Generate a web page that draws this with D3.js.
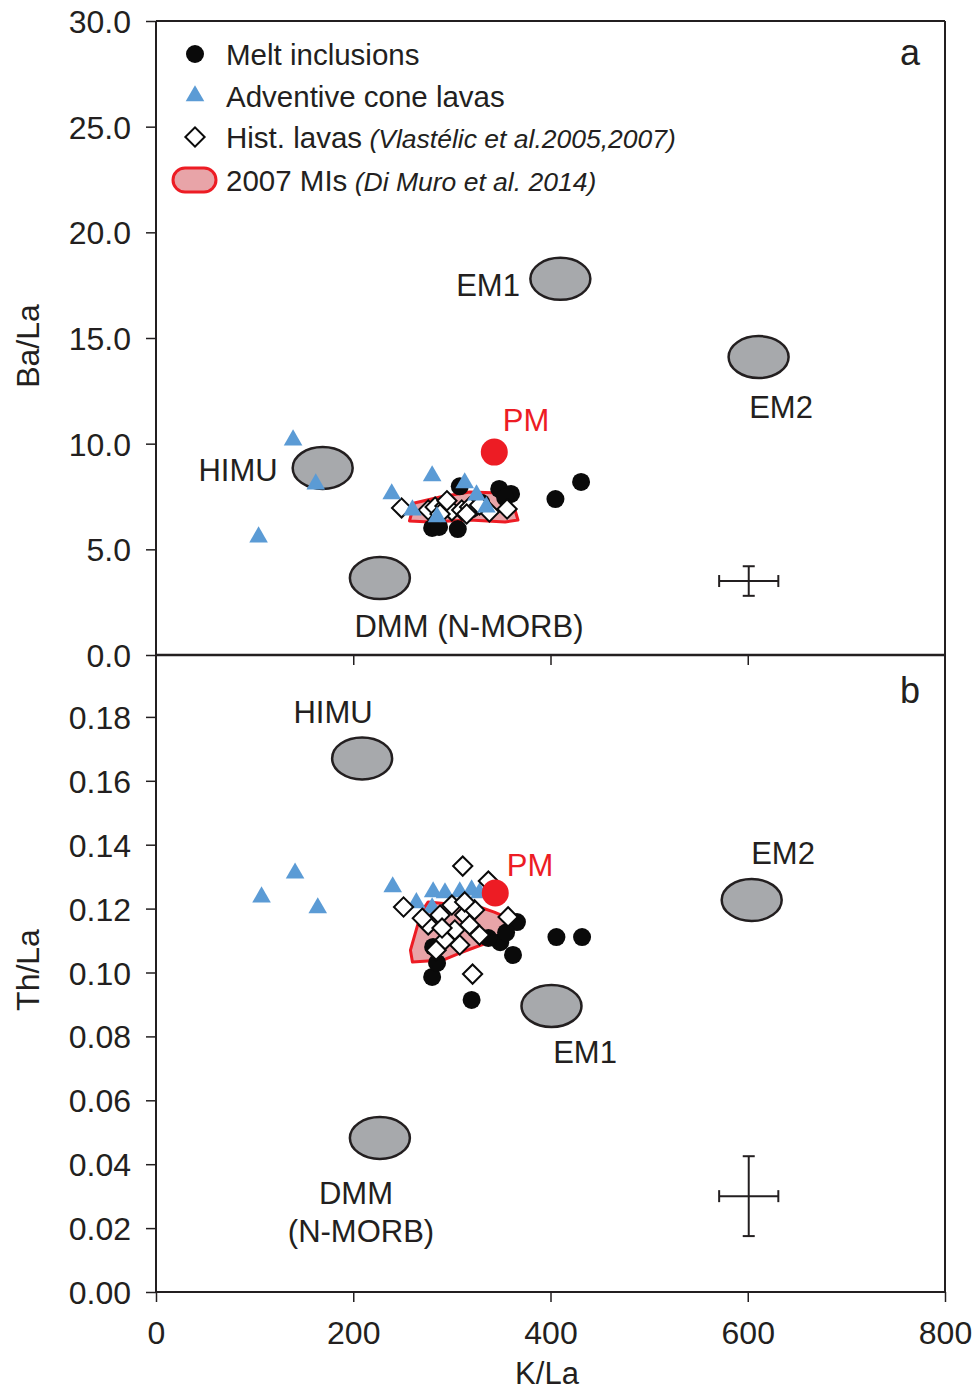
<!DOCTYPE html>
<html><head><meta charset="utf-8">
<script src="https://cdn.jsdelivr.net/npm/d3@7"></script>
<style>
body{margin:0;background:#fff;}
text{font-family:"Liberation Sans",Arial,Helvetica,sans-serif;fill:#231f20;}
</style></head>
<body><svg id="c" width="974" height="1393"></svg>
<script>
// ---------- DATA ----------
const xTicks = [0, 200, 400, 600, 800];
const yTicksA = [0, 5, 10, 15, 20, 25, 30];
const yTicksB = [0, 0.02, 0.04, 0.06, 0.08, 0.10, 0.12, 0.14, 0.16, 0.18];

// Panel a: [K/La, Ba/La]
const meltInclusionsA = [[308,7.98],[348,7.86],[360,7.62],[354,7.45],[405,7.38],[431,8.19],[280,6.01],[287,6.06],[306,5.96],[330,7.2],[320,6.9]];
const adventiveA = [[139,10.17],[162,8.09],[104,5.58],[280,8.47],[239,7.62],[260,6.86],[313,8.14],[325,7.57],[335,7.0],[285,6.53]];
const histLavasA = [[249,6.96],[276,6.86],[283,7.0],[293,7.05],[300,6.82],[310,6.86],[318,7.0],[315,6.67],[288,6.67],[338,6.77],[356,6.91],[328,7.1],[295,7.3]];
const mi2007A = [[257,6.34],[262,7.19],[288,7.48],[318,7.71],[349,7.67],[364,6.86],[367,6.39],[354,6.29],[318,6.39],[278,6.29]];
const reservoirsA = [["EM1",410,17.8],["EM2",611,14.1],["HIMU",169,8.85],["DMM",227,3.64]];
const pmA = [343, 9.6];
const errA = [601, 3.5, 30, 0.7];

// Panel b: [K/La, Th/La]
const meltInclusionsB = [[280,0.0986],[285,0.1030],[281,0.1080],[320,0.0914],[362,0.1055],[349,0.1095],[337,0.1108],[366,0.1158],[406,0.1111],[432,0.1111],[355,0.1125]];
const adventiveB = [[107,0.1236],[141,0.1311],[164,0.1202],[240,0.1268],[264,0.1218],[281,0.1252],[293,0.1249],[308,0.1252],[320,0.1258],[328,0.1249],[280,0.1202]];
const histLavasB = [[311,0.1333],[337,0.1286],[251,0.1205],[357,0.1174],[321,0.0995],[276,0.1149],[288,0.1180],[300,0.1211],[313,0.1180],[303,0.1133],[318,0.1149],[293,0.1102],[308,0.1086],[328,0.1117],[323,0.1196],[290,0.1139],[284,0.1070],[313,0.1221],[270,0.1170]];
const mi2007B = [[260,0.1033],[258,0.1070],[269,0.1189],[276,0.1221],[328,0.1205],[343,0.1189],[362,0.1164],[357,0.1117],[308,0.1061],[291,0.1039]];
const reservoirsB = [["HIMU",209,0.167],["EM2",604,0.1227],["EM1",401,0.0895],["DMM",227,0.0482]];
const pmB = [344, 0.1249];
const errB = [601, 0.030, 30, 0.0125];

const legendItems = ["Melt inclusions","Adventive cone lavas","Hist. lavas","2007 MIs"];
const legendRefs = ["","","(Vlastélic et al.2005,2007)","(Di Muro et al. 2014)"];

// ---------- STYLE ----------
const BLUE = "#5b9bd5", RED = "#ed1c24", PINK = "#e8a4a8", GREY = "#a7a9ac", INK = "#231f20";
const svg = d3.select("#c");
const x = d3.scaleLinear().domain([0,800]).range([156,945]);
const ya = d3.scaleLinear().domain([0,30]).range([655,21]);
const yb = d3.scaleLinear().domain([0,0.2]).range([1292,653]);
const FS = 32;

function axes(g, y, ticks, fmt, yTop, yBot) {
  g.append("g").attr("transform","translate(156,0)")
    .call(d3.axisLeft(y).tickValues(ticks).tickFormat(d3.format(fmt)).tickSize(10).tickPadding(15))
    .call(s=>{s.select(".domain").remove();
      s.selectAll("line").attr("stroke",INK).attr("stroke-width",1.5);
      s.selectAll("text").attr("font-size",FS).attr("fill",INK).attr("dy","0.36em").style("font-family","Liberation Sans, Arial");});
  g.append("line").attr("x1",156).attr("x2",156).attr("y1",yTop).attr("y2",yBot).attr("stroke",INK).attr("stroke-width",2);
}

const ga = svg.append("g"), gb = svg.append("g");
axes(ga, ya, yTicksA, ".1f", 21, 655);
axes(gb, yb, yTicksB, ".2f", 655, 1292);

// frame lines
svg.append("line").attr("x1",156).attr("x2",945).attr("y1",21).attr("y2",21).attr("stroke",INK).attr("stroke-width",2);
svg.append("line").attr("x1",945).attr("x2",945).attr("y1",21).attr("y2",1292).attr("stroke",INK).attr("stroke-width",2);
svg.append("line").attr("x1",156).attr("x2",945).attr("y1",655).attr("y2",655).attr("stroke",INK).attr("stroke-width",2.5);
svg.append("line").attr("x1",156).attr("x2",945).attr("y1",1292).attr("y2",1292).attr("stroke",INK).attr("stroke-width",2);

svg.append("g").attr("transform","translate(0,655)")
  .call(d3.axisBottom(x).tickValues(xTicks.slice(1,4)).tickSize(10).tickFormat(""))
  .call(s=>{s.select(".domain").remove(); s.selectAll("line").attr("stroke",INK).attr("stroke-width",1.5);});
svg.append("g").attr("transform","translate(0,1292)")
  .call(d3.axisBottom(x).tickValues(xTicks).tickSize(10).tickPadding(19).tickFormat(d3.format("d")))
  .call(s=>{s.select(".domain").remove(); s.selectAll("line").attr("stroke",INK).attr("stroke-width",1.5);
    s.selectAll("text").attr("font-size",FS).attr("fill",INK).attr("dy","0.71em");});

// axis titles
svg.append("text").attr("transform","translate(39,346) rotate(-90)").attr("text-anchor","middle").attr("font-size",FS).text("Ba/La");
svg.append("text").attr("transform","translate(39,970) rotate(-90)").attr("text-anchor","middle").attr("font-size",FS).text("Th/La");
svg.append("text").attr("x",547).attr("y",1384).attr("text-anchor","middle").attr("font-size",31).text("K/La");

// panel letters
svg.append("text").attr("x",910).attr("y",65).attr("text-anchor","middle").attr("font-size",36).text("a");
svg.append("text").attr("x",910).attr("y",703).attr("text-anchor","middle").attr("font-size",36).text("b");

const tri = d3.symbol().type(d3.symbolTriangle).size(150);
const dia = d3.symbol().type(d3.symbolSquare).size(185);

function panel(g, y, mi, adv, hist, poly, res, pm, err, order) {
  g.append("path").datum(poly)
    .attr("d", d3.line().x(d=>x(d[0])).y(d=>y(d[1])).curve(d3.curveLinearClosed))
    .attr("fill",PINK).attr("stroke",RED).attr("stroke-width",3).attr("stroke-linejoin","round");
  g.selectAll(null).data(res).join("ellipse")
    .attr("cx",d=>x(d[1])).attr("cy",d=>y(d[2])).attr("rx",30).attr("ry",21)
    .attr("fill",GREY).attr("stroke",INK).attr("stroke-width",2.5);
  const layers = {
    mi: ()=>g.selectAll(null).data(mi).join("circle").attr("cx",d=>x(d[0])).attr("cy",d=>y(d[1])).attr("r",9).attr("fill","#0a0a0a"),
    adv: ()=>g.selectAll(null).data(adv).join("path").attr("d",tri).attr("transform",d=>`translate(${x(d[0])},${y(d[1])})`).attr("fill",BLUE),
    hist: ()=>g.selectAll(null).data(hist).join("path").attr("d",dia).attr("transform",d=>`translate(${x(d[0])},${y(d[1])}) rotate(45)`).attr("fill","#fff").attr("stroke","#0a0a0a").attr("stroke-width",2)
  };
  order.forEach(k=>layers[k]());
  g.append("circle").attr("cx",x(pm[0])).attr("cy",y(pm[1])).attr("r",13.5).attr("fill",RED);
  const cx = x(err[0]), cy = y(err[1]);
  const x0 = x(err[0]-err[2]), x1 = x(err[0]+err[2]), y0 = y(err[1]-err[3]), y1 = y(err[1]+err[3]);
  const eb = g.append("g").attr("stroke",INK).attr("stroke-width",2).attr("fill","none");
  eb.append("line").attr("x1",x0).attr("x2",x1).attr("y1",cy).attr("y2",cy);
  eb.append("line").attr("x1",cx).attr("x2",cx).attr("y1",y0).attr("y2",y1);
  eb.append("line").attr("x1",x0).attr("x2",x0).attr("y1",cy-6).attr("y2",cy+6);
  eb.append("line").attr("x1",x1).attr("x2",x1).attr("y1",cy-6).attr("y2",cy+6);
  eb.append("line").attr("x1",cx-6).attr("x2",cx+6).attr("y1",y0).attr("y2",y0);
  eb.append("line").attr("x1",cx-6).attr("x2",cx+6).attr("y1",y1).attr("y2",y1);
}
panel(ga, ya, meltInclusionsA, adventiveA, histLavasA, mi2007A, reservoirsA, pmA, errA, ["mi","hist","adv"]);
panel(gb, yb, meltInclusionsB, adventiveB, histLavasB, mi2007B, reservoirsB, pmB, errB, ["mi","adv","hist"]);

function lab(t, px, py, col, anchor) {
  svg.append("text").attr("x",px).attr("y",py).attr("dy","0.36em").attr("text-anchor",anchor||"middle")
    .attr("font-size",31).style("fill",col||INK).text(t);
}
lab("EM1",488,285); lab("EM2",781,407); lab("HIMU",238,470); lab("DMM (N-MORB)",469,626); lab("PM",526,420,RED);
lab("HIMU",333,712); lab("EM2",783,853); lab("EM1",585,1052); lab("DMM",356,1193); lab("(N-MORB)",361,1231); lab("PM",530,865,RED);

// legend
const ly = [54, 96, 137, 180];
const lg = svg.append("g");
lg.append("circle").attr("cx",195).attr("cy",ly[0]).attr("r",9).attr("fill","#0a0a0a");
lg.append("path").attr("d",tri).attr("transform",`translate(195,${ly[1]})`).attr("fill",BLUE);
lg.append("path").attr("d",dia).attr("transform",`translate(195,${ly[2]}) rotate(45)`).attr("fill","#fff").attr("stroke","#0a0a0a").attr("stroke-width",2);
lg.append("rect").attr("x",173).attr("y",ly[3]-12).attr("width",43).attr("height",24).attr("rx",12)
  .attr("fill",PINK).attr("stroke",RED).attr("stroke-width",3);
legendItems.forEach((t,i)=>{
  const tx = lg.append("text").attr("x",226).attr("y",ly[i]).attr("dy","0.36em").attr("font-size",29.5);
  tx.append("tspan").text(t);
  if (legendRefs[i]) tx.append("tspan").attr("font-style","italic").attr("font-size",26.5).text(" "+legendRefs[i]);
});
</script></body></html>
